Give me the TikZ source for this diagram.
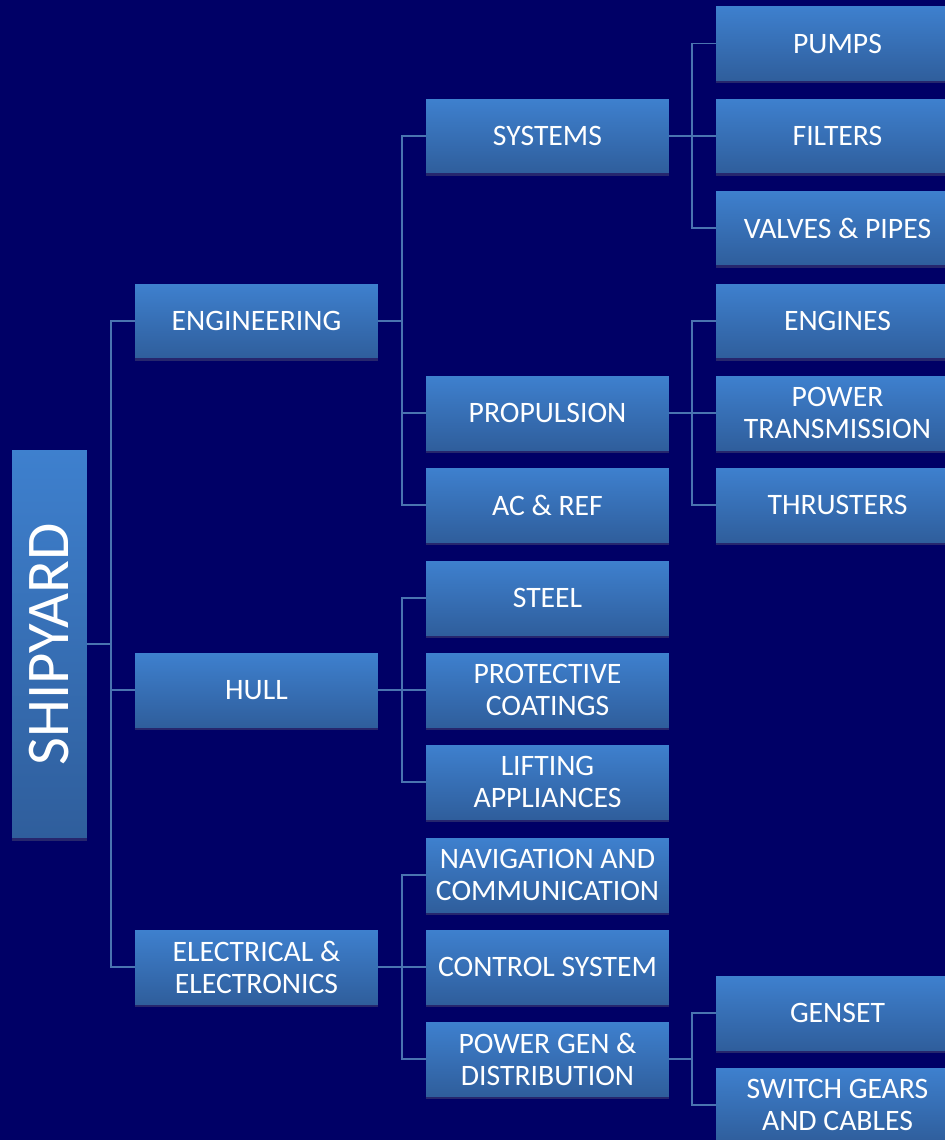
\documentclass[tikz,border=0pt]{standalone}
\usepackage{fontspec}
\setmainfont{Carlito}
\usetikzlibrary{shadows}
\definecolor{navybg}{RGB}{0,0,102}
\definecolor{boxtop}{RGB}{62,128,206}
\definecolor{boxbot}{RGB}{47,94,156}
\definecolor{linkcol}{RGB}{74,116,176}

\begin{document}
\begin{tikzpicture}[x=0.02cm, y=-0.02cm,
    box/.style={top color=boxtop, bottom color=boxbot, text=white,
        minimum width=4.86cm, minimum height=1.48cm, inner sep=0pt,
        align=center, font=\fontsize{16.9}{18.2}\selectfont,
        drop shadow={shadow xshift=0pt, shadow yshift=-1.5pt, opacity=0.3}},
    link/.style={draw=linkcol, line width=1.1pt}]
    \fill[navybg] (0,0) rectangle (945,1140);
    \clip (0,0) rectangle (945,1140);

    % root
    \node[box, minimum width=1.5cm, minimum height=7.76cm,
        font=\fontsize{34.5}{34.5}\selectfont] (shipyard) at (49.5,644) {\rotatebox{90}{SHIPYARD}};

    % first level
    \node[box] (eng)  at (256.5,321) {ENGINEERING};
    \node[box] (hull) at (256.5,690) {HULL};
    \node[box] (elec) at (256.5,967) {ELECTRICAL \&\\ELECTRONICS};

    % second level
    \node[box] (sys)   at (547.5,136)  {SYSTEMS};
    \node[box] (prop)  at (547.5,413)  {PROPULSION};
    \node[box] (acref) at (547.5,505)  {AC \& REF};
    \node[box] (steel) at (547.5,598)  {STEEL};
    \node[box] (coat)  at (547.5,690)  {PROTECTIVE\\COATINGS};
    \node[box] (lift)  at (547.5,782)  {LIFTING\\APPLIANCES};
    \node[box] (nav)   at (547.5,875)  {NAVIGATION AND\\COMMUNICATION};
    \node[box] (ctrl)  at (547.5,967)  {CONTROL SYSTEM};
    \node[box] (pgen)  at (547.5,1059) {POWER GEN \&\\DISTRIBUTION};

    % third level
    \node[box] (pumps)  at (837.5,43.5) {PUMPS};
    \node[box] (filt)   at (837.5,136)  {FILTERS};
    \node[box] (valves) at (837.5,228)  {VALVES \& PIPES};
    \node[box] (engn)   at (837.5,321)  {ENGINES};
    \node[box] (ptrans) at (837.5,413)  {POWER\\TRANSMISSION};
    \node[box] (thrust) at (837.5,505)  {THRUSTERS};
    \node[box] (genset) at (837.5,1013) {GENSET};
    \node[box] (swgear) at (837.5,1105) {SWITCH GEARS\\AND CABLES};

    % connectors
    \foreach \c in {eng,hull,elec}
        \draw[link] (shipyard.east) -- ++(24,0) |- (\c.west);
    \foreach \c in {sys,prop,acref}
        \draw[link] (eng.east) -- ++(24,0) |- (\c.west);
    \foreach \c in {steel,coat,lift}
        \draw[link] (hull.east) -- ++(24,0) |- (\c.west);
    \foreach \c in {nav,ctrl,pgen}
        \draw[link] (elec.east) -- ++(24,0) |- (\c.west);
    \foreach \c in {pumps,filt,valves}
        \draw[link] (sys.east) -- ++(23,0) |- (\c.west);
    \foreach \c in {engn,ptrans,thrust}
        \draw[link] (prop.east) -- ++(23,0) |- (\c.west);
    \foreach \c in {genset,swgear}
        \draw[link] (pgen.east) -- ++(23,0) |- (\c.west);
\end{tikzpicture}
\end{document}
